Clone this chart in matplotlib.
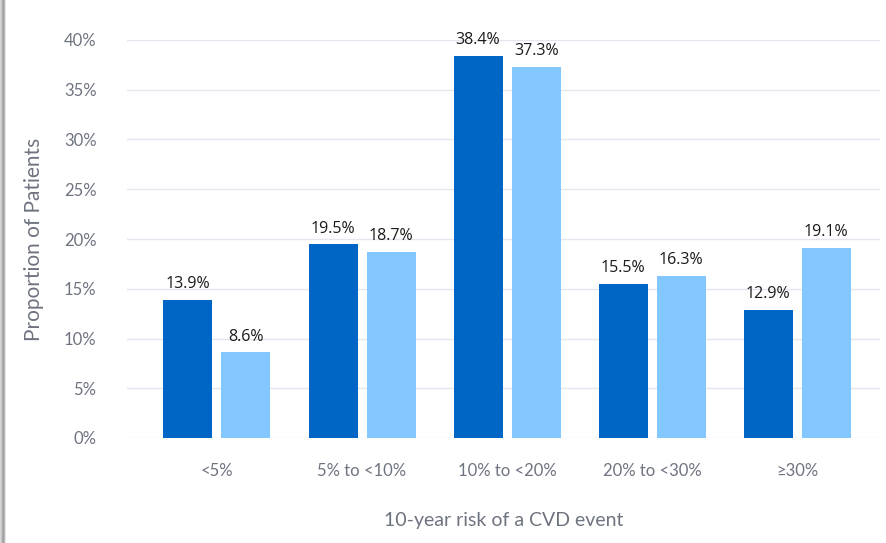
import matplotlib.pyplot as plt
from matplotlib.patches import Rectangle
import numpy as np

plt.rcParams['font.family'] = ['Lato', 'DejaVu Sans']

# data
categories = ['<5%', '5% to <10%', '10% to <20%', '20% to <30%', '≥30%']
series_a = [13.9, 19.5, 38.4, 15.5, 12.9]
series_b = [8.6, 18.7, 37.3, 16.3, 19.1]
yticks = [0, 5, 10, 15, 20, 25, 30, 35, 40]

dark = '#0066C6'
light = '#82C7FF'
grid_col = '#E2E6EF'
tick_col = '#6E7380'

fig = plt.figure(figsize=(8.87, 5.43), dpi=100)
# card shadow on the left edge
for i, g in enumerate(['#d8d8d8', '#c4c4c4', '#b0b0b0', '#a0a0a0', '#b8b8b8', '#e6e6e6']):
    fig.add_artist(Rectangle((i / 887, 0), 1.5 / 887, 1, transform=fig.transFigure,
                             color=g, lw=0, zorder=0))

ax = fig.add_axes([127 / 887, 1 - 438 / 543, 753 / 887, 398 / 543])
x = np.arange(len(categories))
w = 0.338
off = 0.2
ba = ax.bar(x - off, series_a, w, color=dark, zorder=3)
bb = ax.bar(x + off, series_b, w, color=light, zorder=3)
for bars, vals in [(ba, series_a), (bb, series_b)]:
    for r, v in zip(bars, vals):
        ax.text(r.get_x() + r.get_width() / 2, v + 0.75, f'{v:.1f}%', ha='center',
                va='bottom', fontsize=11.5, color='#1a1a1a', clip_on=False,
                family=['Open Sans', 'DejaVu Sans'])

ax.set_xlim(-0.62, 4.57)
ax.set_ylim(0, 40)
ax.set_yticks(yticks)
ax.set_yticklabels([f'{t}%' for t in yticks])
ax.set_xticks(x)
ax.set_xticklabels(categories)
ax.tick_params(length=0, labelsize=12, colors=tick_col)
ax.tick_params(axis='y', pad=22)
ax.tick_params(axis='x', pad=18)
ax.grid(axis='y', color=grid_col, lw=1, zorder=0)
for s in ax.spines.values():
    s.set_visible(False)
ax.set_ylabel('Proportion of Patients', fontsize=15, color=tick_col, labelpad=14)
ax.set_xlabel('10-year risk of a CVD event', fontsize=14, color=tick_col, labelpad=24)

fig.savefig('out.png', dpi=100)
